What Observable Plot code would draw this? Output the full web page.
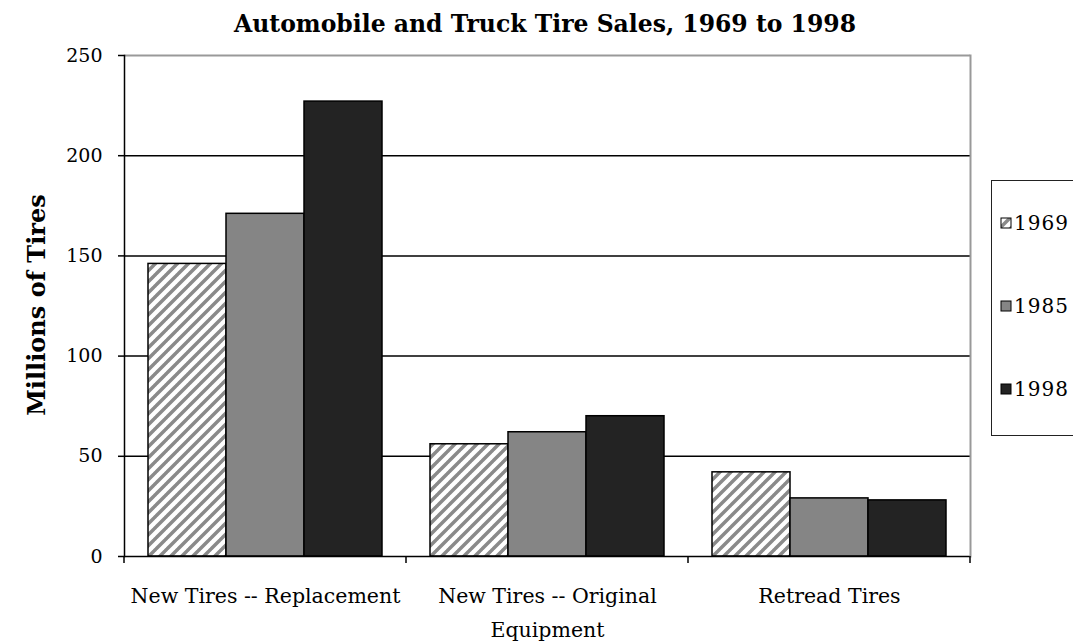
<!DOCTYPE html>
<html><head><meta charset="utf-8">
<script src="https://cdn.jsdelivr.net/npm/d3@7"></script>
<script src="https://cdn.jsdelivr.net/npm/@observablehq/plot@0.6"></script>
<style>
body{margin:0;background:#fff;}
#wrap{position:relative;width:1073px;height:644px;overflow:hidden;font-family:"DejaVu Serif",serif;color:#000;background:#fff;}
#title{position:absolute;top:10px;left:0;width:1090px;text-align:center;font-weight:bold;font-size:23.5px;line-height:28px;}
#ylabel{position:absolute;left:36px;top:305px;transform:translate(-50%,-50%) rotate(-90deg);font-weight:bold;font-size:24px;white-space:nowrap;}
#chart{position:absolute;top:0;left:0;}
#legend{position:absolute;left:991px;top:180px;width:120px;height:256px;border:1.5px solid #222;box-sizing:border-box;background:#fff;}
.item{position:absolute;left:8px;font-size:20px;letter-spacing:1px;display:flex;align-items:center;height:24px;}
.item svg{margin-right:2px;}
</style></head>
<body>
<div id="wrap">
  <div id="title"></div>
  <div id="chart"></div>
  <div id="ylabel"></div>
  <div id="legend"></div>
</div>
<svg width="0" height="0" style="position:absolute">
  <defs>
    <pattern id="hatch" patternUnits="userSpaceOnUse" width="11" height="11">
      <rect width="11" height="11" fill="#fff"/>
      <path d="M-1,1 l2,-2 M0,11 l11,-11 M10,12 l2,-2" stroke="#8a8a8a" stroke-width="3.5"/>
    </pattern>
  </defs>
</svg>
<script>
const titleText = "Automobile and Truck Tire Sales, 1969 to 1998";
const yLabel = "Millions of Tires";
const categories = ["New Tires -- Replacement", "New Tires -- Original Equipment", "Retread Tires"];
const categoryLabels = ["New Tires -- Replacement", "New Tires -- Original\nEquipment", "Retread Tires"];
const years = ["1969", "1985", "1998"];
const sales1969 = [146, 56, 42];
const sales1985 = [171, 62, 29];
const sales1998 = [227, 70, 28];
const yTicks = [0, 50, 100, 150, 200, 250];
const fills = ["url(#hatch)", "#858585", "#232323"];

const series = [sales1969, sales1985, sales1998];
const rows = [];
categories.forEach((c, i) => years.forEach((y, j) => rows.push({category: c, year: y, value: series[j][i]})));

document.getElementById("title").textContent = titleText;
document.getElementById("ylabel").textContent = yLabel;

const plot = Plot.plot({
  width: 1073, height: 644,
  marginTop: 55, marginBottom: 88, marginLeft: 123, marginRight: 102,
  style: {fontFamily: "DejaVu Serif", fontSize: "18px", color: "#000", background: "transparent"},
  fx: {domain: categories, padding: 0, label: null},
  x: {domain: years, paddingInner: 0, paddingOuter: 0.3, axis: null},
  y: {domain: [0, 250], label: null},
  color: {domain: years, range: fills},
  marks: [
    Plot.gridY(yTicks.slice(1, -1), {stroke: "#000", strokeOpacity: 1, strokeWidth: 1.5}),
    Plot.ruleY([250], {stroke: "#999", strokeWidth: 2}),
    Plot.barY(rows, {fx: "category", x: "year", y: "value", fill: "year", stroke: "#000", strokeWidth: 1.5}),
    Plot.ruleY([0], {stroke: "#000", strokeWidth: 1.5}),
    Plot.frame({anchor: "left", facetAnchor: "left", stroke: "#000", strokeWidth: 1.5}),
    Plot.frame({anchor: "right", facetAnchor: "right", stroke: "#999", strokeWidth: 2}),
    Plot.axisY(yTicks, {anchor: "left", tickSize: 6, tickPadding: 16, fontSize: 19, label: null, stroke: "#000", strokeWidth: 1.5}),
    Plot.axisFx({anchor: "bottom", tickSize: 0, tickPadding: 22, fontSize: 20.5, lineHeight: 1.66, label: null,
      tickFormat: d => categoryLabels[categories.indexOf(d)]})
  ]
});
document.getElementById("chart").appendChild(plot);

// category boundary ticks on the x axis, from the fx scale
const fx = plot.scale("fx"), ys = plot.scale("y");
const y0 = ys.apply(0);
const bounds = categories.map(c => fx.apply(c)).concat([fx.apply(categories[categories.length - 1]) + fx.bandwidth]);
d3.select(plot).append("g").selectAll("line").data(bounds).join("line")
  .attr("x1", d => d).attr("x2", d => d).attr("y1", y0).attr("y2", y0 + 7)
  .attr("stroke", "#000").attr("stroke-width", 1.5);

// legend
const legend = d3.select("#legend");
const legendTops = [30, 113, 196];
years.forEach((y, i) => {
  const it = legend.append("div").attr("class", "item").style("top", legendTops[i] + "px");
  const s = it.append("svg").attr("width", 12).attr("height", 12);
  s.append("rect").attr("x", 1).attr("y", 1).attr("width", 10).attr("height", 10)
    .attr("fill", fills[i]).attr("stroke", "#000").attr("stroke-width", 1);
  it.append("span").text(y);
});
</script>
</body></html>
